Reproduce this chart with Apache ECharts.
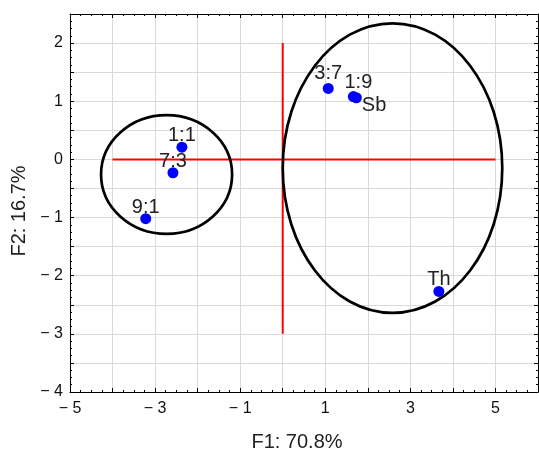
<!DOCTYPE html>
<html>
<head>
<meta charset="utf-8">
<script src="https://cdn.jsdelivr.net/npm/echarts@6/dist/echarts.min.js"></script>
<style>
html, body { margin: 0; padding: 0; background: #fff; }
#myChart1 { width: 539px; height: 457px; }
</style>
</head>
<body>
<div id="myChart1"></div>
<script>
// sample scores: [F1, F2, name]
var points = [
    [-2.37, 0.21, '1:1'],
    [-2.58, -0.23, '7:3'],
    [-3.22, -1.02, '9:1'],
    [1.07, 1.22, '3:7'],
    [1.66, 1.08, '1:9'],
    [1.73, 1.06, 'Sb'],
    [3.67, -2.27, 'Th']
];
// cluster ellipses: [cx, cy, rx, ry]
var ellipses = [
    [-2.73, -0.26, 1.54, 1.02],
    [2.58, -0.15, 2.58, 2.49]
];
// red reference axes
var hLine = [[-4, 0], [5, 0]];
var vLine = [[0, -3], [0, 2]];
var xTickLabels = [-5, -3, -1, 1, 3, 5];
var yTickLabels = [-4, -3, -2, -1, 0, 1, 2];

// label placement per point
var labelPlace = {
    '1:1': { position: 'top', offset: [0, 4] },
    '7:3': { position: 'top', offset: [0, 4] },
    '9:1': { position: 'top', offset: [0, 4] },
    '3:7': { position: 'top', offset: [0, 1] },
    '1:9': { position: 'top', offset: [5, 1] },
    'Sb': { position: 'right', offset: [0, 8] },
    'Th': { position: 'top', offset: [0, 4] }
};

function fmt(v) {
    return v < 0 ? '\u2212 ' + Math.abs(v) : String(v);
}

var font = 'Liberation Sans';
var lineStyle = { show: true, onZero: false, lineStyle: { color: '#000', width: 1 } };
var tickStyle = { show: true, inside: true, length: 4, lineStyle: { color: '#000' } };
var minorStyle = { show: true, splitNumber: 4, length: 2, lineStyle: { color: '#000' } };

var myChart = echarts.init(document.getElementById('myChart1'));
var option = {
    animation: false,
    grid: { left: 70, right: 1, top: 14, bottom: 62 },
    xAxis: [{
        type: 'value',
        min: -5, max: 6, interval: 1,
        position: 'bottom',
        name: 'F1: 70.8%',
        nameLocation: 'middle',
        nameGap: 40,
        nameTextStyle: { fontFamily: font, fontSize: 20, color: '#222', padding: [0, 14, 0, 0] },
        axisLine: lineStyle,
        axisTick: tickStyle,
        minorTick: minorStyle,
        axisLabel: {
            fontFamily: font, fontSize: 16, color: '#111', margin: 9,
            showMaxLabel: false,
            formatter: function (v) { return xTickLabels.indexOf(v) >= 0 ? fmt(v) : ''; }
        },
        splitLine: { show: true, lineStyle: { color: '#d9d9d9', width: 1 } }
    }, {
        type: 'value',
        min: -5, max: 6, interval: 1,
        position: 'top',
        axisLine: lineStyle,
        axisTick: tickStyle,
        minorTick: minorStyle,
        axisLabel: { show: false },
        splitLine: { show: false }
    }],
    yAxis: [{
        type: 'value',
        min: -4, max: 2.5, interval: 0.5,
        position: 'left',
        name: 'F2: 16.7%',
        nameLocation: 'middle',
        nameGap: 40,
        nameTextStyle: { fontFamily: font, fontSize: 20, color: '#222', padding: [0, 16, 0, 0] },
        axisLine: lineStyle,
        axisTick: tickStyle,
        minorTick: minorStyle,
        axisLabel: {
            fontFamily: font, fontSize: 16, color: '#111', margin: 7,
            formatter: function (v) { return yTickLabels.indexOf(v) >= 0 ? fmt(v) : ''; }
        },
        splitLine: { show: true, lineStyle: { color: '#d9d9d9', width: 1 } }
    }, {
        type: 'value',
        min: -4, max: 2.5, interval: 0.5,
        position: 'right',
        axisLine: lineStyle,
        axisTick: tickStyle,
        minorTick: minorStyle,
        axisLabel: { show: false },
        splitLine: { show: false }
    }],
    series: [{
        type: 'line',
        data: hLine,
        symbol: 'none',
        lineStyle: { color: '#ff0000', width: 2 },
        z: 2
    }, {
        type: 'line',
        data: vLine,
        symbol: 'none',
        lineStyle: { color: '#ff0000', width: 2 },
        z: 2
    }, {
        type: 'custom',
        data: ellipses,
        renderItem: function (params, api) {
            var c = api.coord([api.value(0), api.value(1)]);
            var s = api.size([api.value(2), api.value(3)]);
            return {
                type: 'ellipse',
                shape: { cx: c[0], cy: c[1], rx: s[0], ry: s[1] },
                style: { fill: null, stroke: '#000', lineWidth: 2.7 }
            };
        },
        z: 3
    }, {
        type: 'scatter',
        symbolSize: 11,
        itemStyle: { color: '#0000ff', opacity: 1 },
        data: points.map(function (p) {
            var lp = labelPlace[p[2]];
            return {
                value: [p[0], p[1]],
                name: p[2],
                label: { position: lp.position, offset: lp.offset }
            };
        }),
        label: {
            show: true,
            formatter: '{b}',
            distance: 0,
            fontFamily: font,
            fontSize: 20,
            color: '#222'
        },
        z: 4
    }]
};
myChart.setOption(option);
</script>
</body>
</html>
